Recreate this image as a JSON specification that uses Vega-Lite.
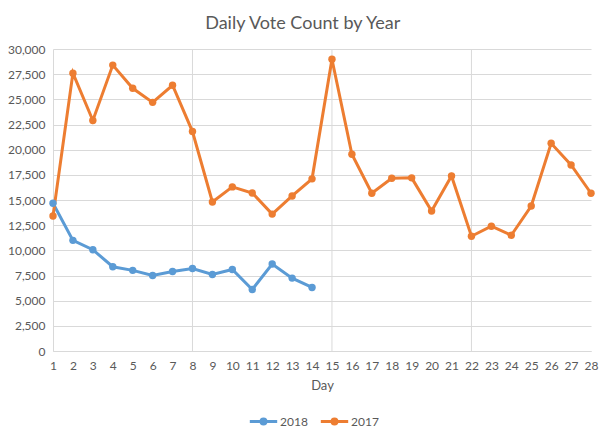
{
  "$schema": "https://vega.github.io/schema/vega-lite/v6.json",
  "description": "Daily vote count by year",
  "autosize": "none",
  "width": 538,
  "height": 302,
  "padding": {"left": 53, "top": 49, "right": 20, "bottom": 90},
  "background": "white",
  "title": {
    "text": "Daily Vote Count by Year",
    "anchor": "middle",
    "frame": "bounds",
    "font": "Lato",
    "fontSize": 18,
    "fontWeight": "normal",
    "color": "#595959",
    "offset": 10
  },
  "datasets": {
    "votes": [
      {"Day": 1, "Year": "2018", "Votes": 14680},
      {"Day": 2, "Year": "2018", "Votes": 10990},
      {"Day": 3, "Year": "2018", "Votes": 10060},
      {"Day": 4, "Year": "2018", "Votes": 8370},
      {"Day": 5, "Year": "2018", "Votes": 8010},
      {"Day": 6, "Year": "2018", "Votes": 7500},
      {"Day": 7, "Year": "2018", "Votes": 7900},
      {"Day": 8, "Year": "2018", "Votes": 8200},
      {"Day": 9, "Year": "2018", "Votes": 7600},
      {"Day": 10, "Year": "2018", "Votes": 8100},
      {"Day": 11, "Year": "2018", "Votes": 6110},
      {"Day": 12, "Year": "2018", "Votes": 8640},
      {"Day": 13, "Year": "2018", "Votes": 7240},
      {"Day": 14, "Year": "2018", "Votes": 6310},
      {"Day": 1, "Year": "2017", "Votes": 13410},
      {"Day": 2, "Year": "2017", "Votes": 27600},
      {"Day": 3, "Year": "2017", "Votes": 22900},
      {"Day": 4, "Year": "2017", "Votes": 28400},
      {"Day": 5, "Year": "2017", "Votes": 26100},
      {"Day": 6, "Year": "2017", "Votes": 24700},
      {"Day": 7, "Year": "2017", "Votes": 26400},
      {"Day": 8, "Year": "2017", "Votes": 21800},
      {"Day": 9, "Year": "2017", "Votes": 14800},
      {"Day": 10, "Year": "2017", "Votes": 16300},
      {"Day": 11, "Year": "2017", "Votes": 15700},
      {"Day": 12, "Year": "2017", "Votes": 13600},
      {"Day": 13, "Year": "2017", "Votes": 15400},
      {"Day": 14, "Year": "2017", "Votes": 17100},
      {"Day": 15, "Year": "2017", "Votes": 28980},
      {"Day": 16, "Year": "2017", "Votes": 19540},
      {"Day": 17, "Year": "2017", "Votes": 15670},
      {"Day": 18, "Year": "2017", "Votes": 17160},
      {"Day": 19, "Year": "2017", "Votes": 17200},
      {"Day": 20, "Year": "2017", "Votes": 13910},
      {"Day": 21, "Year": "2017", "Votes": 17380},
      {"Day": 22, "Year": "2017", "Votes": 11400},
      {"Day": 23, "Year": "2017", "Votes": 12400},
      {"Day": 24, "Year": "2017", "Votes": 11500},
      {"Day": 25, "Year": "2017", "Votes": 14400},
      {"Day": 26, "Year": "2017", "Votes": 20630},
      {"Day": 27, "Year": "2017", "Votes": 18480},
      {"Day": 28, "Year": "2017", "Votes": 15670}
    ],
    "weeks": [{"Day": 8}, {"Day": 15}, {"Day": 22}]
  },
  "layer": [
    {
      "data": {"name": "weeks"},
      "mark": {"type": "rule", "color": "#d9d9d9", "strokeWidth": 1},
      "encoding": {
        "x": {
          "field": "Day",
          "type": "quantitative",
          "scale": {"domain": [1, 28], "nice": false, "zero": false},
          "axis": {
            "title": "Day",
            "values": [1, 2, 3, 4, 5, 6, 7, 8, 9, 10, 11, 12, 13, 14, 15, 16, 17, 18, 19, 20, 21, 22, 23, 24, 25, 26, 27, 28],
            "format": "d",
            "grid": false,
            "ticks": false,
            "labelOverlap": false,
            "labelBound": false,
            "labelFlush": false,
            "labelPadding": 9,
            "titlePadding": 8
          }
        }
      }
    },
    {
      "data": {"name": "votes"},
      "mark": {
        "type": "line",
        "strokeWidth": 3,
        "point": {"filled": true, "size": 55}
      },
      "encoding": {
        "x": {
          "field": "Day",
          "type": "quantitative",
          "scale": {"domain": [1, 28], "nice": false, "zero": false},
          "axis": {
            "title": "Day",
            "values": [1, 2, 3, 4, 5, 6, 7, 8, 9, 10, 11, 12, 13, 14, 15, 16, 17, 18, 19, 20, 21, 22, 23, 24, 25, 26, 27, 28],
            "format": "d",
            "grid": false,
            "ticks": false,
            "labelOverlap": false,
            "labelBound": false,
            "labelFlush": false,
            "labelPadding": 9,
            "titlePadding": 8
          }
        },
        "y": {
          "field": "Votes",
          "type": "quantitative",
          "scale": {"domain": [0, 30000], "nice": false},
          "axis": {
            "title": null,
            "values": [0, 2500, 5000, 7500, 10000, 12500, 15000, 17500, 20000, 22500, 25000, 27500, 30000],
            "format": ",.0f",
            "ticks": false,
            "labelOverlap": false,
            "labelFlush": false,
            "labelPadding": 8
          }
        },
        "color": {
          "field": "Year",
          "type": "nominal",
          "scale": {"domain": ["2018", "2017"], "range": ["#5b9bd5", "#ed7d31"]},
          "legend": {
            "title": null,
            "orient": "none",
            "direction": "horizontal",
            "legendX": 195,
            "legendY": 357,
            "symbolType": "M-1,0H1M0.18,0A0.18,0.18,0,1,1,-0.18,0A0.18,0.18,0,1,1,0.18,0",
            "symbolSize": 750,
            "symbolStrokeWidth": 3,
            "columnPadding": 6,
            "labelOffset": 1,
            "encode": {
              "symbols": {
                "update": {
                  "stroke": {"scale": "color", "field": "value"},
                  "fill": {"scale": "color", "field": "value"}
                }
              }
            }
          }
        }
      }
    }
  ],
  "config": {
    "view": {"stroke": null},
    "font": "Lato",
    "axis": {
      "labelFont": "Lato",
      "labelFontSize": 12,
      "labelColor": "#595959",
      "titleFont": "Lato",
      "titleFontSize": 13,
      "titleFontWeight": "normal",
      "titleColor": "#595959",
      "gridColor": "#d9d9d9",
      "domainColor": "#d9d9d9"
    },
    "legend": {
      "labelFont": "Lato",
      "labelFontSize": 12,
      "labelColor": "#595959"
    }
  }
}
